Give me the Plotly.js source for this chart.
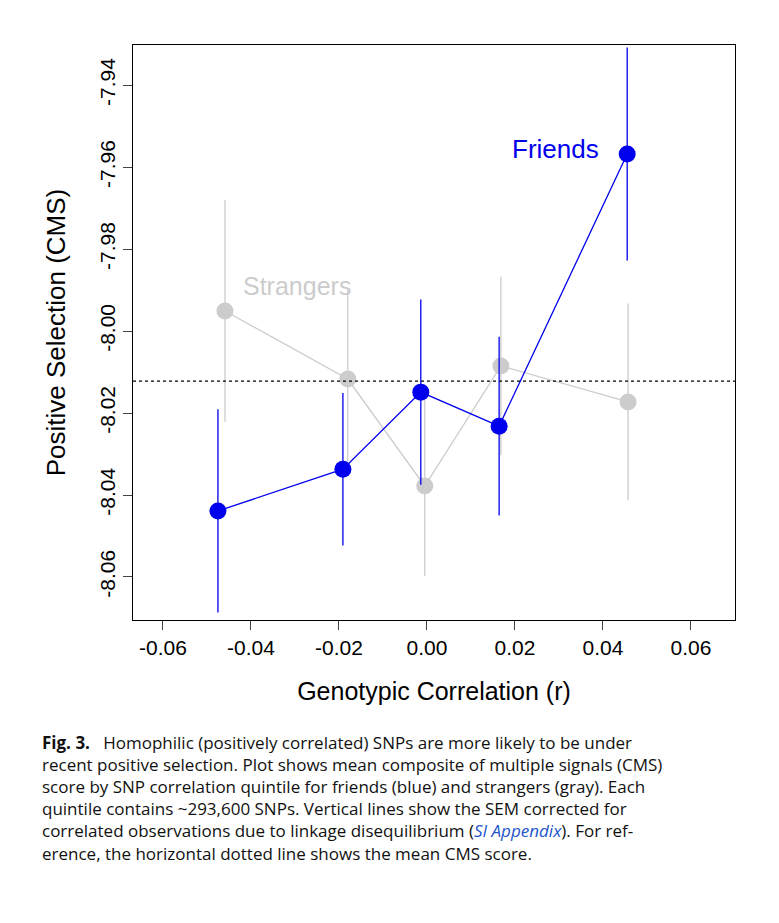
<!DOCTYPE html>
<html>
<head>
<meta charset="utf-8">
<script src="https://cdn.plot.ly/plotly-3.0.1.min.js"></script>
<style>body{margin:0;background:#fff}</style>
</head>
<body>
<div id="chart" style="width:779px;height:923px"></div>
<script>
// values
var friendsX = [-0.0475, -0.0191, -0.0014, 0.0164, 0.0455];
var friendsY = [-8.0439, -8.0337, -8.0149, -8.0232, -7.9568];
var friendsErr = [0.0248, 0.0186, 0.0226, 0.0218, 0.0260];
var strangersX = [-0.0459, -0.0180, -0.0005, 0.0168, 0.0457];
var strangersY = [-7.9951, -8.0117, -8.0378, -8.0085, -8.0173];
var strangersErr = [0.0270, 0.0220, 0.0220, 0.0218, 0.0240];
var meanCMS = -8.0122;
var xTicks = [-0.06, -0.04, -0.02, 0.00, 0.02, 0.04, 0.06];
var yTicks = [-8.06, -8.04, -8.02, -8.00, -7.98, -7.96, -7.94];

var data = [
    {
        x: strangersX, y: strangersY, type: 'scatter', mode: 'lines+markers',
        line: {color: '#cccccc', width: 1.3},
        marker: {color: '#cccccc', size: 17},
        error_y: {type: 'data', array: strangersErr, color: '#cccccc', thickness: 1.3, width: 0}
    },
    {
        x: friendsX, y: friendsY, type: 'scatter', mode: 'lines+markers',
        line: {color: '#0000ee', width: 1.3},
        marker: {color: '#0000ee', size: 17},
        error_y: {type: 'data', array: friendsErr, color: '#0000ee', thickness: 1.3, width: 0}
    }
];

var caption = '<b>Fig. 3.</b>   Homophilic (positively correlated) SNPs are more likely to be under<br>' +
    'recent positive selection. Plot shows mean composite of multiple signals (CMS)<br>' +
    'score by SNP correlation quintile for friends (blue) and strangers (gray). Each<br>' +
    'quintile contains ~293,600 SNPs. Vertical lines show the SEM corrected for<br>' +
    'correlated observations due to linkage disequilibrium (<i><span style="color:#2255cc">SI Appendix</span></i>). For ref-<br>' +
    'erence, the horizontal dotted line shows the mean CMS score.';

var layout = {
    width: 779, height: 923,
    margin: {l: 133, r: 44, t: 45, b: 303},
    showlegend: false,
    paper_bgcolor: '#fff', plot_bgcolor: '#fff',
    font: {family: 'Liberation Sans, Arial, sans-serif', color: '#000'},
    xaxis: {
        range: [-0.0668, 0.07], tickvals: xTicks, ticktext: xTicks.map(v => v.toFixed(2)),
        ticks: 'outside', ticklen: 9, tickwidth: 1, tickfont: {size: 21},
        showgrid: false, zeroline: false, showline: true, linecolor: '#000', mirror: true,
        title: {text: 'Genotypic Correlation (r)', font: {size: 25}, standoff: 24}
    },
    yaxis: {
        range: [-8.0705, -7.9302], tickvals: yTicks, ticktext: yTicks.map(v => v.toFixed(2)),
        ticks: 'outside', ticklen: 9, tickwidth: 1, tickfont: {size: 21}, tickangle: -90,
        showgrid: false, zeroline: false, showline: true, linecolor: '#000', mirror: true,
        title: {text: 'Positive Selection (CMS)', font: {size: 26}, standoff: 22}
    },
    shapes: [{
        type: 'line', xref: 'paper', x0: 0, x1: 1, yref: 'y', y0: meanCMS, y1: meanCMS,
        line: {color: '#000', width: 1.2, dash: 'dot'}
    }],
    annotations: [
        {x: 0.0395, y: -7.9555, xref: 'x', yref: 'y', text: 'Friends', showarrow: false,
         xanchor: 'right', font: {size: 26, color: '#0000ee'}},
        {x: -0.0423, y: -7.989, xref: 'x', yref: 'y', text: 'Strangers', showarrow: false,
         xanchor: 'left', font: {size: 25, color: '#cccccc'}},
        {x: -0.155, y: -0.19, xref: 'paper', yref: 'paper', text: caption, showarrow: false,
         xanchor: 'left', yanchor: 'top', align: 'left',
         font: {family: 'Open Sans, sans-serif', size: 17, color: '#111'}}
    ]
};

Plotly.newPlot('chart', data, layout, {displayModeBar: false});
</script>
</body>
</html>
